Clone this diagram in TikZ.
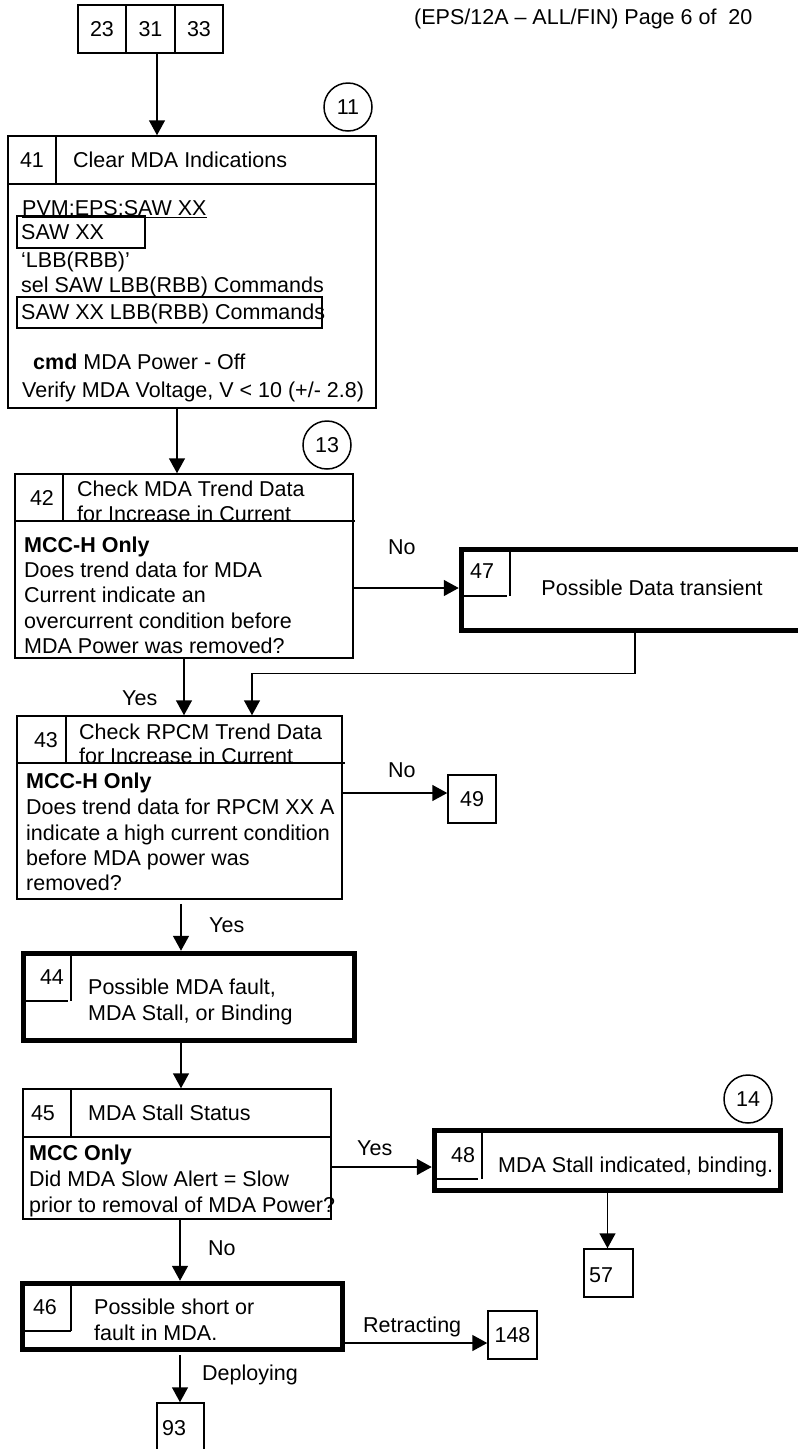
\documentclass[tikz,border=0pt]{standalone}
\usepackage{fontspec}
\setmainfont{Liberation Sans}
\usetikzlibrary{arrows.meta}
\begin{document}
\begin{tikzpicture}[x=1pt,y=-1pt,
  every node/.style={font=\fontsize{21.5}{25.5}\selectfont},
  bx/.style={draw, line width=1.5pt, inner sep=0pt},
  tbx/.style={draw, line width=5.5pt, inner sep=0pt},
  ln/.style={line width=1.5pt},
  arr/.style={line width=1.5pt, -{Triangle[length=15pt,width=16pt]}},
  txt/.style={anchor=base west, inner sep=0pt},
  ctxt/.style={anchor=base, inner sep=0pt},
  circ/.style={draw, circle, line width=1.5pt, minimum size=48pt, inner sep=0pt}]
\useasboundingbox (0,0) rectangle (798,1449);
\clip (0,0) rectangle (798,1449);

% header
\node[txt] (hdr) at (414,24.5) {(EPS/12A – ALL/FIN) Page 6 of\ \ 20};

% top boxes
\node[bx, minimum width=48pt, minimum height=48pt] (b23) at (102,29) {23};
\node[bx, minimum width=49pt, minimum height=48pt] (b31) at (150.5,29) {31};
\node[bx, minimum width=48pt, minimum height=48pt] (b33) at (199,29) {33};

% circles
\node[circ] (c11) at (348,107) {11};
\node[circ] (c13) at (327,445) {13};
\node[circ] (c14) at (748,1099) {14};

% box 41
\node[bx, minimum width=368pt, minimum height=272pt] (b41) at (192,272) {};
\draw[ln] (8,184) -- (376,184);
\draw[ln] (56,136) -- (56,184);
\node[ctxt] (n41) at (32,167.5) {41};
\node[txt] (h41) at (73,167.5) {Clear MDA Indications};
\node[txt] (l41a) at (22,215.5) {\underline{PVM:EPS:SAW XX}};
\node[bx, minimum width=128pt, minimum height=32pt] (s41a) at (81,232) {};
\node[txt] (l41b) at (21,239.5) {SAW XX};
\node[txt] (l41c) at (21,267.5) {‘LBB(RBB)’};
\node[txt] (l41d) at (21,292.5) {sel SAW LBB(RBB) Commands};
\node[bx, minimum width=305pt, minimum height=31pt] (s41b) at (169.5,312.5) {};
\node[txt] (l41e) at (21,319.5) {SAW XX LBB(RBB) Commands};
\node[txt] (l41f) at (33,369.5) {\textbf{cmd} MDA Power - Off};
\node[txt] (l41g) at (22,397.5) {Verify MDA Voltage, V < 10 (+/- 2.8)};

% box 42
\node[bx, minimum width=338pt, minimum height=184pt] (b42) at (184,566) {};
\draw[ln] (15,521) -- (355,521);
\draw[ln] (63,474) -- (63,521);
\node[ctxt] (n42) at (42,505.5) {42};
\node[txt] (h42a) at (77,496.5) {Check MDA Trend Data};
\node[txt] (h42b) at (77,521.5) {for Increase in Current};
\node[txt] (l42a) at (24,552.5) {\textbf{MCC-H Only}};
\node[txt] (l42b) at (24,577.5) {Does trend data for MDA};
\node[txt] (l42c) at (24,602.5) {Current indicate an};
\node[txt] (l42d) at (24,628.5) {overcurrent condition before};
\node[txt] (l42e) at (24,653.5) {MDA Power was removed?};

% box 47
\node[tbx, minimum width=350.5pt, minimum height=81pt] (b47) at (636.75,590) {};
\draw[ln] (510,549) -- (510,596);
\draw[ln] (464,596) -- (507,596);
\node[ctxt] (n47) at (482,578.5) {47};
\node[ctxt] (h47) at (652,595.5) {Possible Data transient};

% box 43
\node[bx, minimum width=325pt, minimum height=183pt] (b43) at (179.5,807.5) {};
\draw[ln] (17,763) -- (345,763);
\draw[ln] (66,716) -- (66,763);
\node[ctxt] (n43) at (46,747.5) {43};
\node[txt] (h43a) at (79,739.5) {Check RPCM Trend Data};
\node[txt] (h43b) at (79,763.5) {for Increase in Current};
\node[txt] (l43a) at (26,788.5) {\textbf{MCC-H Only}};
\node[txt] (l43b) at (26,814.5) {Does trend data for RPCM XX A};
\node[txt] (l43c) at (26,840.5) {indicate a high current condition};
\node[txt] (l43d) at (26,865.5) {before MDA power was};
\node[txt] (l43e) at (26,890.5) {removed?};

% box 49
\node[bx, minimum width=48pt, minimum height=48pt] (b49) at (472,799) {49};

% box 44
\node[tbx, minimum width=331pt, minimum height=87pt] (b44) at (189,997) {};
\draw[ln] (71,953) -- (71,1001);
\draw[ln] (26,1001) -- (68,1001);
\node[ctxt] (n44) at (52,984.5) {44};
\node[txt] (h44a) at (88,994.5) {Possible MDA fault,};
\node[txt] (h44b) at (88,1020.5) {MDA Stall, or Binding};

% box 45
\node[bx, minimum width=308pt, minimum height=130pt] (b45) at (177,1154) {};
\draw[ln] (23,1137) -- (331,1137);
\draw[ln] (71,1089) -- (71,1137);
\node[ctxt] (n45) at (43,1120.5) {45};
\node[txt] (h45) at (88,1120.5) {MDA Stall Status};
\node[txt] (l45a) at (29,1160.5) {\textbf{MCC Only}};
\node[txt] (l45b) at (29,1186.5) {Did MDA Slow Alert = Slow};
\node[txt] (l45c) at (29,1212.5) {prior to removal of MDA Power?};

% box 48
\node[tbx, minimum width=346pt, minimum height=60pt] (b48) at (607.5,1160.5) {};
\draw[ln] (482,1131) -- (482,1179);
\draw[ln] (437,1179) -- (478,1179);
\node[ctxt] (n48) at (463,1162.5) {48};
\node[txt] (h48) at (498,1172.5) {MDA Stall indicated, binding.};

% box 57
\node[bx, minimum width=49pt, minimum height=48pt] (b57) at (608.5,1273) {};
\node[txt] (t57) at (589,1282.5) {57};

% box 46
\node[tbx, minimum width=320pt, minimum height=66pt] (b46) at (182.5,1316.5) {};
\draw[ln] (71,1284) -- (71,1331);
\draw[ln] (25,1331) -- (71,1331);
\node[ctxt] (n46) at (45,1314.5) {46};
\node[txt] (h46a) at (94,1314.5) {Possible short or};
\node[txt] (h46b) at (94,1340.5) {fault in MDA.};

% box 148
\node[bx, minimum width=49pt, minimum height=48pt] (b148) at (512.5,1335) {148};

% box 93
\node[bx, minimum width=47pt, minimum height=48pt] (b93) at (180.5,1427) {};
\node[txt] (t93) at (162,1435.5) {93};

% connectors
\draw[arr] ([xshift=6.5pt]b31.south) -- ([xshift=6.5pt]b31.south |- b41.north);
\draw[arr] ([xshift=-15pt]b41.south) -- ([xshift=-15pt]b41.south |- b42.north);
\draw[arr] ([yshift=-22pt]b42.east) -- ([yshift=-22pt]b42.east -| b47.west);
\node[txt] (lno1) at (388,554.5) {No};
\draw[arr] (b42.south) -- (b42.south |- b43.north);
\node[txt] (lyes1) at (122,705.5) {Yes};
\draw[arr] ([xshift=-1.75pt]b47.south) -- ++(0,40) -| ([xshift=72.5pt]b43.north);
\draw[arr] ([yshift=14.5pt]b43.east) -- ([yshift=14.5pt]b43.east -| b49.west);
\node[txt] (lno2) at (388,777.5) {No};
\draw[arr] ([xshift=1.5pt,yshift=-4pt]b43.south) -- ([xshift=1.5pt]b43.south |- b44.north);
\node[txt] (lyes2) at (209,932.5) {Yes};
\draw[arr] ([xshift=-8pt]b44.south) -- ([xshift=-8pt]b44.south |- b45.north);
\draw[arr] ([yshift=-13pt]b45.east) -- ([yshift=-13pt]b45.east -| b48.west);
\node[txt] (lyes3) at (357,1155.5) {Yes};
\draw[arr] (b48.south) -- (b48.south |- b57.north);
\draw[arr] ([xshift=3pt]b45.south) -- ([xshift=3pt]b45.south |- b46.north);
\node[txt] (lno3) at (208,1255.5) {No};
\draw[arr] ([yshift=-26.5pt]b46.east) -- ([yshift=-26.5pt]b46.east -| b148.west);
\node[txt] (lret) at (363,1332.5) {Retracting};
\draw[arr] ([xshift=-2.5pt,yshift=-3pt]b46.south) -- ([xshift=-2.5pt]b46.south |- b93.north);
\node[txt] (ldep) at (202,1380.5) {Deploying};
\end{tikzpicture}
\end{document}
